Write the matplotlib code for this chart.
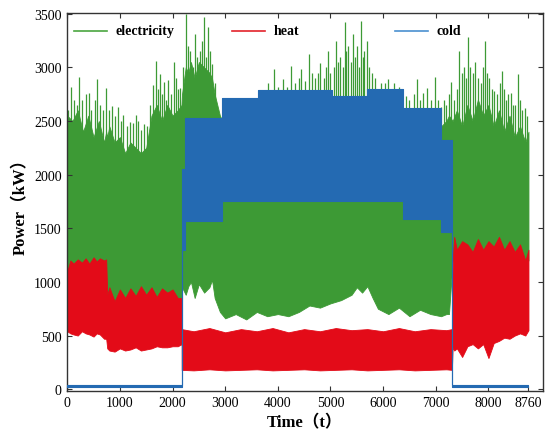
import matplotlib
matplotlib.use("Agg")
import matplotlib.pyplot as plt

plt.rcParams["font.family"] = ["Liberation Serif", "Noto Sans CJK SC"]

# electricity load: body envelope (hour, low / top in kW)
elec_hours = [0, 100, 200, 300, 400, 500, 600, 700, 740, 760,
              800, 900, 1000, 1100, 1200, 1300, 1400, 1500, 1600, 1700, 1800, 1900, 2000, 2100,
              2170, 2180, 2250, 2300, 2350, 2420, 2500, 2600, 2700, 2750, 2800, 2900,
              3000, 3200, 3400, 3600, 3800, 4000, 4200, 4400, 4600, 4800, 5000, 5200, 5400,
              5500, 5600, 5700, 5800, 5900, 6100, 6300, 6500, 6700, 6900, 7100,
              7200, 7250, 7320, 7400, 7500, 7600, 7700, 7800, 7900, 8000, 8100, 8200, 8300,
              8400, 8500, 8600, 8700, 8760]
elec_low = [900, 900, 900, 900, 900, 900, 900, 900, 900, 750,
            750, 750, 750, 750, 750, 750, 750, 750, 750, 750, 750, 750, 750, 750,
            750, 950, 880, 960, 1000, 850, 980, 900, 950, 1020, 850, 720,
            660, 700, 650, 720, 680, 700, 680, 720, 780, 760, 800, 830, 880,
            950, 900, 960, 850, 750, 700, 760, 680, 740, 700, 680,
            700, 700, 1200, 1200, 1200, 1200, 1200, 1200, 1200, 1200, 1200, 1200, 1200,
            1200, 1200, 1200, 1200, 1200]
elec_top = [2550, 2500, 2600, 2400, 2550, 2350, 2500, 2300, 2400, 2350,
            2450, 2300, 2350, 2200, 2300, 2250, 2200, 2250, 2550, 2650, 2500, 2650, 2550, 2600,
            2650, 2750, 3000, 2950, 3050, 2900, 3050, 3000, 2950, 2900, 2750, 2550,
            2450, 2450, 2450, 2450, 2450, 2450, 2450, 2450, 2450, 2450, 2450, 2450, 2450,
            2450, 2450, 2450, 2450, 2450, 2450, 2450, 2450, 2450, 2450, 2450,
            2500, 2550, 2500, 2600, 2450, 2650, 2500, 2700, 2550, 2650, 2450, 2600, 2400,
            2550, 2350, 2450, 2300, 2400]

# electricity daily peaks sticking out of the body (hour, kW)
peak_hours = [20, 70, 120, 180, 233, 280, 350, 413, 460, 520, 568, 620, 680, 740, 790, 850,
              900, 960, 1020, 1060, 1140, 1190, 1250, 1300, 1340, 1400, 1460, 1520, 1580,
              1620, 1680, 1720, 1760, 1800, 1840, 1880, 1923, 1970, 2020, 2060, 2100, 2140,
              2200, 2254, 2300, 2340, 2390, 2433, 2470, 2530, 2560, 2593, 2630, 2682, 2720,
              2750, 2800, 3820, 3930, 4000, 4090, 4170, 4250, 4330, 4400, 4446, 4520, 4600,
              4650, 4700, 4760, 4810, 4880, 4920, 4960, 5000, 5060, 5110, 5150, 5190, 5230,
              5270, 5300, 5340, 5380, 5420, 5460, 5500, 5540, 5570, 5610, 5640, 5700, 5740,
              5780, 5850, 5950, 6030, 6100, 6200, 6300, 6425, 6500, 6580, 6640, 6700, 6760,
              6830, 6900, 6990, 7050, 7100, 7150, 7200, 7250, 7290, 7340, 7400, 7450, 7500,
              7540, 7580, 7613, 7650, 7700, 7750, 7800, 7850, 7900, 7930, 7970, 8010, 8060,
              8100, 8170, 8210, 8250, 8290, 8330, 8380, 8420, 8460, 8500, 8560, 8600, 8640,
              8700, 8740]
peak_vals = [2600, 2820, 2700, 2650, 2910, 2700, 2750, 2760, 2600, 2700, 2890, 2650, 2600, 2810, 2600, 2640,
             2550, 2630, 2500, 2560, 2450, 2490, 2480, 2560, 2500, 2420, 2470, 2450, 2650,
             2840, 3060, 2800, 2940, 2750, 2860, 2700, 2880, 2750, 3050, 2900, 2800, 2810,
             3000, 3500, 3200, 3150, 3000, 3310, 3100, 3150, 3250, 3467, 3100, 3374, 3150,
             3032, 2850, 2850, 2985, 2820, 2890, 2820, 3010, 2850, 2900, 2985, 2870, 3125,
             2950, 2900, 2950, 3040, 2900, 3000, 3156, 2950, 3000, 3250, 3050, 3100, 3000,
             3420, 3150, 3200, 3050, 3311, 3100, 3200, 3000, 3436, 3100, 3150, 3250, 3000,
             2950, 2900, 2850, 2850, 2890, 2850, 2820, 2733, 2700, 2750, 2892, 2700, 2760,
             2810, 2700, 2907, 2700, 2630, 2700, 2650, 2750, 2860, 2700, 2800, 3156, 2950,
             3000, 2900, 3280, 3000, 2950, 3050, 2900, 2850, 3000, 3243, 2950, 2900, 2800,
             2780, 2750, 2850, 2970, 2800, 2700, 2750, 2760, 2650, 2650, 2939, 2700, 2600,
             2620, 2550]

# heat load envelope
heat_hours = [0, 60, 120, 200, 280, 350, 420, 500, 560, 620, 700, 740, 760, 800, 900, 1000,
              1100, 1200, 1300, 1400, 1500, 1600, 1700, 1800, 1900, 2000, 2100, 2173, 2174,
              2400, 2700, 3000, 3300, 3600, 3900, 4200, 4500, 4800, 5100, 5400, 5700, 6000,
              6300, 6600, 6900, 7200, 7306, 7320, 7350, 7400, 7500, 7600, 7700, 7800, 7900,
              8000, 8100, 8200, 8300, 8400, 8500, 8600, 8700, 8760]
heat_high = [1100, 1200, 1170, 1210, 1180, 1220, 1170, 1230, 1190, 1220, 1200, 1210, 880, 950, 820, 930,
             850, 940, 870, 960, 880, 950, 860, 940, 900, 930, 850, 850, 560,
             540, 570, 530, 560, 540, 570, 530, 560, 540, 570, 550, 560, 540,
             570, 540, 560, 550, 560, 1200, 1420, 1300, 1380, 1350, 1280, 1400, 1300,
             1380, 1330, 1420, 1300, 1380, 1280, 1350, 1200, 1300]
heat_low = [540, 520, 510, 500, 540, 520, 510, 490, 520, 510, 470, 470, 380, 360, 350, 380,
            360, 370, 390, 360, 370, 380, 400, 390, 390, 400, 400, 420, 180,
            175, 185, 175, 180, 185, 175, 180, 185, 175, 180, 185, 175, 180,
            185, 175, 180, 185, 180, 390, 360, 380, 300, 400, 420, 380, 420,
            290, 430, 450, 480, 470, 500, 520, 500, 550]

# cooling load, piecewise levels (segment start hour, low / high in kW)
cold_hours = [0, 2174, 2240, 2930, 3618, 5020, 5685, 6385, 7100, 7307, 8760]
cold_low = [20, 1300, 1570, 1750, 1750, 1750, 1750, 1585, 1465, 20, 20]
cold_high = [35, 2050, 2530, 2712, 2789, 2736, 2798, 2618, 2322, 35, 35]

xticks = [0, 1000, 2000, 3000, 4000, 5000, 6000, 7000, 8000, 8760]
yticks = [0, 500, 1000, 1500, 2000, 2500, 3000, 3500]

green = "#3d9a35"
red = "#e30b18"
blue = "#246ab2"

fig = plt.figure(figsize=(5.49, 4.31), dpi=100)
ax = fig.add_axes([0.1215, 0.091, 0.867, 0.876])

ax.fill_between(elec_hours, elec_low, elec_top, color=green, lw=0.6, edgecolor=green, zorder=1)
ax.vlines(peak_hours, 2000, peak_vals, color=green, lw=0.9, zorder=1)
ax.fill_between(heat_hours, heat_low, heat_high, color=red, lw=0.6, edgecolor=red, zorder=2)
ax.fill_between(cold_hours, cold_low, cold_high, step="post", color=blue, lw=0.8,
                edgecolor=blue, zorder=3)

# legend drawn as in the original (evenly spaced entries, no frame)
entries = [("electricity", "#4aa63f", 0.015), ("heat", "#e3232b", 0.347), ("cold", "#4a90d0", 0.690)]
for label, col, x0 in entries:
    ax.plot([x0, x0 + 0.07], [0.953, 0.953], color=col, lw=1.2, transform=ax.transAxes, zorder=4)
    ax.text(x0 + 0.087, 0.953, label, transform=ax.transAxes, va="center", ha="left",
            fontsize=10, fontweight="bold", zorder=4)

ax.set_xlim(-10, 9030)
ax.set_ylim(-15, 3505)
ax.set_xticks(xticks)
ax.set_yticks(yticks)
ax.tick_params(direction="in", top=True, right=True, length=3.5, labelsize=10, color="#333333")
for s in ax.spines.values():
    s.set_color("#333333")
    s.set_linewidth(1.0)

ax.set_xlabel("Time（t）", fontsize=12, fontweight="bold", labelpad=4)
ax.set_ylabel("Power（kW）", fontsize=12, fontweight="bold", labelpad=4)

fig.savefig("out.png", dpi=100)
